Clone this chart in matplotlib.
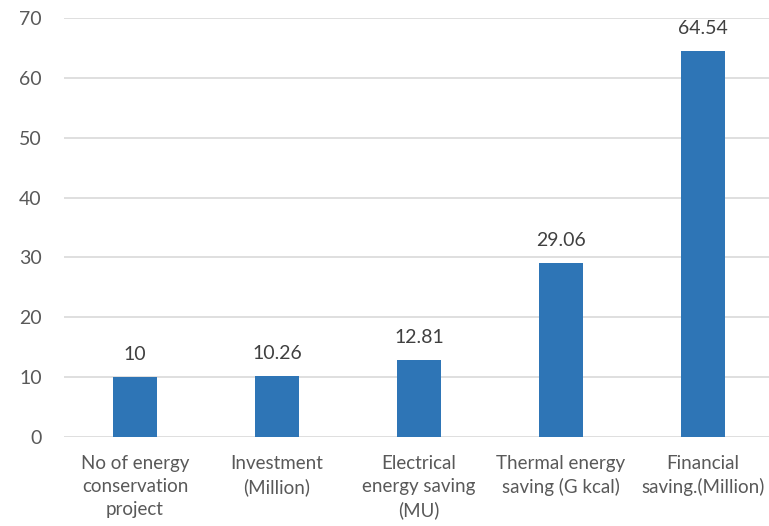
import matplotlib
matplotlib.use("Agg")
import matplotlib.pyplot as plt

categories = [
    "No of energy\nconservation\nproject",
    "Investment\n(Million)",
    "Electrical\nenergy saving\n(MU)",
    "Thermal energy\nsaving (G kcal)",
    "Financial\nsaving.(Million)",
]
values = [10, 10.26, 12.81, 29.06, 64.54]
value_labels = ["10", "10.26", "12.81", "29.06", "64.54"]
yticks = [0, 10, 20, 30, 40, 50, 60, 70]

plt.rcParams["font.family"] = ["Lato", "DejaVu Sans"]

fig = plt.figure(figsize=(7.69, 5.26), dpi=100)
ax = fig.add_axes([64 / 769, 1 - 437 / 526, 710 / 769, (437 - 18) / 526])

x = list(range(len(categories)))
ax.bar(x, values, width=0.31, color="#2E75B6", zorder=3)
for xi, v, lab in zip(x, values, value_labels):
    ax.annotate(lab, (xi, v), xytext=(0, 10), textcoords="offset points",
                ha="center", va="bottom", fontsize=14, color="#404040")

ax.set_xlim(-0.5, 4.5)
ax.set_ylim(0, 70)
ax.set_yticks(yticks)
ax.set_xticks(x)
ax.set_xticklabels(categories, fontsize=13.5, color="#595959", linespacing=1.42)
ax.tick_params(axis="y", labelsize=14, labelcolor="#595959", length=0, pad=16)
ax.tick_params(axis="x", length=0, pad=13)
ax.grid(axis="y", color="#D9D9D9", linewidth=1.2, zorder=0)
for s in ax.spines.values():
    s.set_visible(False)

fig.savefig("out.png", dpi=100)
